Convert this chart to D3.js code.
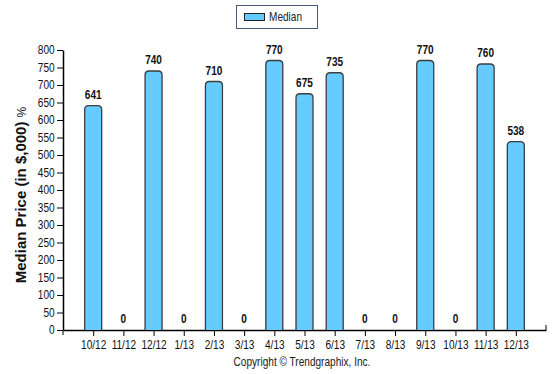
<!DOCTYPE html>
<html>
<head>
<meta charset="utf-8">
<script src="https://cdn.jsdelivr.net/npm/d3@7"></script>
<style>
  body { margin: 0; background: #fff; }
  text { font-family: "Liberation Sans", Arial, sans-serif; }
</style>
</head>
<body>
<div class="canvas"></div>
<script>
// data
const months = ['10/12', '11/12', '12/12', '1/13', '2/13', '3/13', '4/13', '5/13',
    '6/13', '7/13', '8/13', '9/13', '10/13', '11/13', '12/13'];
const median = [641, 0, 740, 0, 710, 0, 770, 675, 735, 0, 0, 770, 0, 760, 538];
const yTicks = [0, 50, 100, 150, 200, 250, 300, 350, 400, 450, 500, 550, 600, 650, 700, 750, 800];

const svg = d3.select('.canvas')
    .append('svg')
    .attr('width', 555)
    .attr('height', 374);

const margin = { top: 50, right: 9, bottom: 44, left: 63 };
const graphWidth = 555 - margin.left - margin.right;
const graphHeight = 374 - margin.top - margin.bottom;

// the original font is narrower than Liberation Sans, squeeze text a bit
const squeeze = 'scale(0.84,1)';

const graph = svg.append('g')
    .attr('transform', `translate(${margin.left}, ${margin.top})`);

// scales
const x = d3.scalePoint()
    .domain(months)
    .range([0, graphWidth])
    .padding(1);

const y = d3.scaleLinear()
    .domain([0, 800])
    .range([graphHeight, 0]);

// axes
const yAxisGroup = graph.append('g')
    .call(d3.axisLeft(y).tickValues(yTicks).tickSize(6).tickSizeOuter(0));
const xAxisGroup = graph.append('g')
    .attr('transform', `translate(0, ${graphHeight})`)
    .call(d3.axisBottom(x).tickSize(6).tickSizeOuter(0));

[yAxisGroup, xAxisGroup].forEach(g => {
    g.select('.domain').attr('stroke', '#000').attr('stroke-width', 1.5);
    g.selectAll('.tick line').attr('stroke', '#000');
    g.selectAll('text')
        .attr('font-size', 12)
        .attr('fill', '#111')
        .attr('transform', squeeze);
});
yAxisGroup.selectAll('text').attr('x', -10);
xAxisGroup.selectAll('text').attr('y', 10);

// small end ticks on the x axis
xAxisGroup.append('line')
    .attr('x1', 0).attr('x2', 0).attr('y1', 0).attr('y2', 5)
    .attr('stroke', '#000');
xAxisGroup.append('line')
    .attr('x1', graphWidth).attr('x2', graphWidth).attr('y1', 0).attr('y2', -5)
    .attr('stroke', '#000');

// bars with rounded tops
const barW = 17;
const r = 4;
const barPath = d => {
    const x0 = x(d.m) - barW / 2, x1 = x0 + barW;
    const yt = y(d.v), yb = y(0);
    return `M${x0},${yb} V${yt + r} Q${x0},${yt} ${x0 + r},${yt} H${x1 - r} Q${x1},${yt} ${x1},${yt + r} V${yb}`;
};

const rows = months.map((m, i) => ({ m, v: median[i] }));

graph.selectAll('path.bar')
    .data(rows.filter(d => d.v > 0))
    .enter()
    .append('path')
    .attr('class', 'bar')
    .attr('d', barPath)
    .attr('fill', '#66ccff')
    .attr('stroke', '#3c3c3c')
    .attr('stroke-width', 1.3);

graph.selectAll('text.val')
    .data(rows)
    .enter()
    .append('text')
    .attr('class', 'val')
    .attr('transform', d => `translate(${x(d.m)}, ${y(d.v) - 7}) ${squeeze}`)
    .attr('text-anchor', 'middle')
    .attr('font-size', 12)
    .attr('font-weight', 'bold')
    .attr('fill', '#111')
    .text(d => d.v);

// y title
const title = svg.append('text')
    .attr('transform', 'translate(26, 195) rotate(-90)')
    .attr('text-anchor', 'middle')
    .attr('font-size', 15)
    .attr('font-weight', 'bold')
    .attr('fill', '#111');
title.append('tspan').text('Median Price (in $,000) ');
title.append('tspan').attr('font-weight', 'normal').attr('font-size', 12).text('%');

// legend
const legend = svg.append('g');
legend.append('rect')
    .attr('x', 236.5).attr('y', 5.5)
    .attr('width', 81).attr('height', 23)
    .attr('fill', '#fff')
    .attr('stroke', '#4a5a7a')
    .attr('stroke-width', 1);
legend.append('rect')
    .attr('x', 244.5).attr('y', 13.5)
    .attr('width', 20).attr('height', 7)
    .attr('fill', '#66ccff')
    .attr('stroke', '#222');
legend.append('text')
    .attr('transform', `translate(269, 21) ${squeeze}`)
    .attr('font-size', 12)
    .attr('fill', '#222')
    .text('Median');

// copyright
svg.append('text')
    .attr('transform', `translate(302, 366) ${squeeze}`)
    .attr('text-anchor', 'middle')
    .attr('font-size', 12)
    .attr('fill', '#222')
    .text('Copyright \u00a9 Trendgraphix, Inc.');
</script>
</body>
</html>
